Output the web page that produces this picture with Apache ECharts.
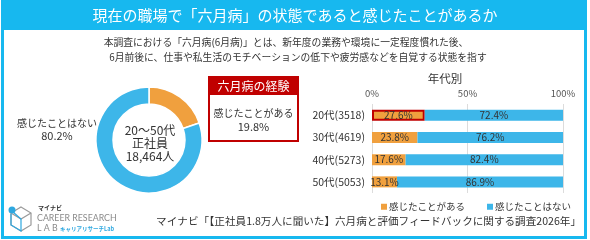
<!DOCTYPE html>
<html>
<head>
<meta charset="utf-8">
<script src="https://cdn.jsdelivr.net/npm/echarts@6/dist/echarts.min.js"></script>
<style>
  html, body { margin: 0; padding: 0; background: #fff; }
  #chart { width: 590px; height: 240px; }
</style>
</head>
<body>
<div id="chart"></div>
<script>
// 全体 (donut)
const totalNames = ['感じたことがある', '感じたことはない'];
const totalValues = [19.8, 80.2];
// 年代別 (stacked bars)
const ageCategories = ['20代(3518)', '30代(4619)', '40代(5273)', '50代(5053)'];
const feltValues = [27.6, 23.8, 17.6, 13.1];
const notFeltValues = [72.4, 76.2, 82.4, 86.9];
const axisTicks = [0, 50, 100];

const BLUE = '#3db6e9';
const ORANGE = '#f0a03e';
const FRAME = '#17b8ef';
const RED = '#c00000';
const FONT = '"Noto Sans CJK JP", "Noto Sans", sans-serif';

var chartDom = document.getElementById('chart');
var myChart = echarts.init(chartDom, null, { renderer: 'canvas' });

function txt(text, x, y, size, color, align, extra) {
    return {
        type: 'text',
        z: 10,
        style: Object.assign({
            text: text,
            x: x,
            y: y,
            fontSize: size,
            fontFamily: FONT,
            fill: color,
            align: align || 'center',
            verticalAlign: 'middle'
        }, extra || {})
    };
}

var option = {
    backgroundColor: '#fff',
    textStyle: { fontFamily: FONT },
    animation: false,
    legend: {
        data: totalNames,
        top: 197,
        left: 376,
        width: 260,
        orient: 'horizontal',
        icon: 'rect',
        itemWidth: 6,
        itemHeight: 6,
        itemGap: 22,
        textStyle: { fontSize: 9.5, color: '#333', padding: [0, 0, 0, -3] }
    },
    grid: {
        left: 372,
        right: 27,
        top: 104,
        height: 89
    },
    xAxis: {
        type: 'value',
        position: 'top',
        min: axisTicks[0],
        max: axisTicks[axisTicks.length - 1],
        interval: axisTicks[1] - axisTicks[0],
        axisLine: { show: false },
        axisTick: { show: false },
        axisLabel: { formatter: '{value}%', fontSize: 9.5, color: '#555', margin: 6 },
        splitLine: { show: true, lineStyle: { color: '#dcdcdc', width: 1 } }
    },
    yAxis: {
        type: 'category',
        inverse: true,
        data: ageCategories,
        axisLine: { show: false },
        axisTick: { show: false },
        axisLabel: { fontSize: 10.5, color: '#333', margin: 7 }
    },
    series: [
        {
            name: totalNames[0],
            type: 'bar',
            stack: 'age',
            barWidth: 11,
            itemStyle: { color: ORANGE },
            label: { show: true, position: 'inside', formatter: '{c}%', fontSize: 10, color: '#333' },
            data: feltValues.map(function (v, i) {
                if (i === 0) {
                    return { value: v, itemStyle: { borderColor: RED, borderWidth: 2 } };
                }
                return v;
            })
        },
        {
            name: totalNames[1],
            type: 'bar',
            stack: 'age',
            barWidth: 11,
            itemStyle: { color: BLUE },
            label: { show: true, position: 'inside', formatter: '{c}%', fontSize: 10, color: '#333' },
            data: notFeltValues
        },
        {
            name: '全体',
            type: 'pie',
            center: [149, 140],
            radius: [36, 53],
            startAngle: 90,
            clockwise: true,
            label: { show: false },
            labelLine: { show: false },
            itemStyle: { borderColor: '#fff', borderWidth: 1.5 },
            emphasis: { disabled: true },
            data: totalNames.map(function (n, i) {
                return { name: n, value: totalValues[i], itemStyle: { color: i === 0 ? ORANGE : BLUE } };
            })
        }
    ],
    graphic: [
        // frame + title bar
        { type: 'rect', z: 1, shape: { x: 1, y: 0, width: 586, height: 30 }, style: { fill: FRAME } },
        { type: 'rect', z: 1, shape: { x: 2.5, y: 1.5, width: 583, height: 236 }, style: { fill: null, stroke: FRAME, lineWidth: 3 } },
        txt('現在の職場で「六月病」の状態であると感じたことがあるか', 295, 15.5, 15, '#fff'),
        txt('本調査における「六月病(6月病)」とは、新年度の業務や環境に一定程度慣れた後、', 286, 42, 9.8, '#333'),
        txt('6月前後に、仕事や私生活のモチベーションの低下や疲労感などを自覚する状態を指す', 298, 57, 9.8, '#333'),

        // donut texts
        txt('20～50代', 150, 130, 12, '#333'),
        txt('正社員', 150, 143, 12, '#333'),
        txt('18,464人', 150, 156, 12, '#333'),
        txt(totalNames[1], 57, 123, 10, '#333'),
        txt(totalValues[1] + '%', 57, 136, 11, '#333'),

        // 六月病の経験 box
        { type: 'rect', z: 5, shape: { x: 208, y: 76, width: 91, height: 19 }, style: { fill: RED } },
        { type: 'rect', z: 5, shape: { x: 209, y: 77, width: 89, height: 64 }, style: { fill: null, stroke: RED, lineWidth: 2 } },
        txt('六月病の経験', 253.5, 86, 12, '#fff'),
        txt(totalNames[0], 253.5, 113, 10, '#333'),
        txt(totalValues[0] + '%', 253.5, 127, 11, '#333'),

        txt('年代別', 445, 79, 11.5, '#333'),

        // footer
        txt('マイナビ「【正社員1.8万人に聞いた】六月病と評価フィードバックに関する調査2026年」', 581, 221, 10.6, '#333', 'right'),

        // logo
        { type: 'polygon', z: 5, shape: { points: [[21, 207], [31, 213], [31, 225], [21, 231], [11, 225], [11, 213]] }, style: { fill: null, stroke: '#9a9a9a', lineWidth: 1.2 } },
        { type: 'polyline', z: 5, shape: { points: [[11, 213], [21, 219], [31, 213]] }, style: { fill: null, stroke: '#9a9a9a', lineWidth: 1.2 } },
        { type: 'polyline', z: 6, shape: { points: [[13, 212], [21, 219], [21, 231], [11, 225], [11, 214]] }, style: { fill: null, stroke: '#2ea8e0', lineWidth: 1.2 } },
        { type: 'circle', z: 7, shape: { cx: 12, cy: 210, r: 3.5 }, style: { fill: '#2ea8e0' } },
        txt('マイナビ', 38, 208, 6, '#333', 'left', { fontWeight: 'bold' }),
        txt('CAREER RESEARCH', 37, 218.5, 8.8, '#8a8a8a', 'left', { fontFamily: 'Lato, sans-serif' }),
        txt('L A B', 37, 228.5, 8.8, '#8a8a8a', 'left', { fontFamily: 'Lato, sans-serif' }),
        txt('キャリアリサーチLab', 60, 228.5, 5.5, '#2ea8e0', 'left', { fontWeight: 'bold' })
    ]
};

option && myChart.setOption(option);
</script>
</body>
</html>
